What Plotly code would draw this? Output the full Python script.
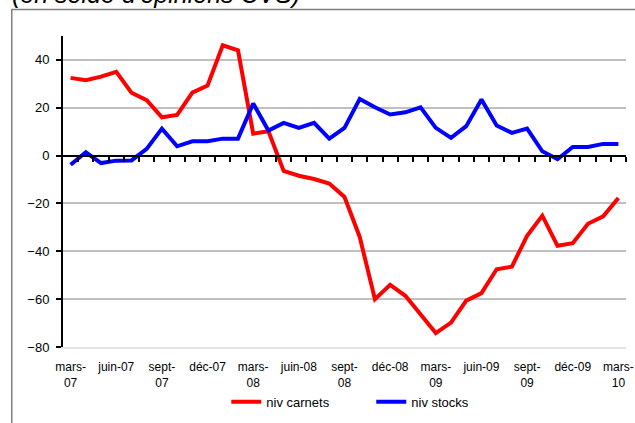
import plotly.graph_objects as go

# monthly data, mars-07 .. mars-10 (soldes d'opinions CVS)
months = [
    "mars-07", "avr-07", "mai-07", "juin-07", "juil-07", "août-07", "sept-07", "oct-07", "nov-07",
    "déc-07", "janv-08", "févr-08", "mars-08", "avr-08", "mai-08", "juin-08", "juil-08", "août-08",
    "sept-08", "oct-08", "nov-08", "déc-08", "janv-09", "févr-09", "mars-09", "avr-09", "mai-09",
    "juin-09", "juil-09", "août-09", "sept-09", "oct-09", "nov-09", "déc-09", "janv-10", "févr-10",
    "mars-10",
]
niv_carnets = [
    32.5, 31.5, 33.0, 35.0, 26.3, 23.2, 16.0, 17.0, 26.3, 29.3, 46.1, 44.0, 9.2,
    10.2, -6.4, -8.4, -9.8, -11.7, -17.3, -34.0, -60.0, -54.0, -58.6, -66.6, -74.2,
    -69.8, -60.6, -57.5, -47.5, -46.4, -33.5, -25.1, -37.7, -36.6, -28.5, -25.4, -17.7,
]
niv_stocks = [
    -3.8, 1.4, -3.1, -2.1, -2.0, 2.8, 11.3, 3.9, 6.0, 6.0, 7.1, 7.1, 21.8,
    10.5, 13.7, 11.6, 13.7, 7.1, 11.6, 23.7, 20.2, 17.2, 18.1, 20.2, 11.6,
    7.4, 12.3, 23.5, 12.6, 9.5, 11.3, 1.8, -1.5, 3.6, 3.6, 4.9, 4.9,
]
tick_months = months[::3]
tick_text = [
    "mars-<br>07", "juin-07", "sept-<br>07", "déc-07", "mars-<br>08", "juin-08", "sept-<br>08",
    "déc-08", "mars-<br>09", "juin-09", "sept-<br>09", "déc-09", "mars-<br>10",
]
y_ticks = [-80, -60, -40, -20, 0, 20, 40]
y_min, y_max = -80, 50

FONT = "Arial, Liberation Sans, sans-serif"

fig = go.Figure()
fig.add_trace(go.Scatter(x=months, y=niv_carnets, mode="lines", name="niv carnets",
                         line=dict(color="#FF0000", width=4)))
fig.add_trace(go.Scatter(x=months, y=niv_stocks, mode="lines", name="niv stocks",
                         line=dict(color="#0000FF", width=4)))
# dummy trace so the zero-line axis (x2) exists
fig.add_trace(go.Scatter(x=[0], y=[0], xaxis="x2", mode="markers", marker=dict(opacity=0),
                         showlegend=False, hoverinfo="skip"))

n = len(months)
fig.update_layout(
    width=635,
    height=423,
    margin=dict(l=63, r=1, t=36, b=76),
    paper_bgcolor="white",
    plot_bgcolor="white",
    font=dict(family=FONT, color="black"),
    showlegend=True,
    legend=dict(
        orientation="h",
        x=0.29,
        xanchor="left",
        y=-0.128,
        yanchor="top",
        font=dict(size=13, family=FONT),
        entrywidth=100,
        entrywidthmode="pixels",
        itemwidth=30,
        bgcolor="rgba(0,0,0,0)",
    ),
    xaxis=dict(
        type="category",
        categoryorder="array",
        categoryarray=months,
        range=[-0.5, n - 0.5],
        tickvals=tick_months,
        ticktext=tick_text,
        ticks="",
        showgrid=False,
        showline=True,
        linecolor="#E4E4E4",
        linewidth=1.5,
        tickfont=dict(size=12, family=FONT),
        ticklabelstandoff=8,
        zeroline=False,
    ),
    xaxis2=dict(
        overlaying="x",
        anchor="free",
        position=(0 - y_min) / (y_max - y_min),
        range=[-0.5, n - 0.5],
        tickvals=[i + 0.5 for i in range(n)],
        ticks="outside",
        ticklen=5,
        tickwidth=2,
        tickcolor="black",
        showticklabels=False,
        showgrid=False,
        showline=True,
        linecolor="black",
        linewidth=2,
        zeroline=False,
    ),
    yaxis=dict(
        range=[y_min, y_max],
        tickvals=y_ticks,
        showgrid=True,
        gridcolor="#C0C0C0",
        gridwidth=1.5,
        zeroline=False,
        showline=True,
        linecolor="black",
        linewidth=2,
        ticks="outside",
        ticklen=5,
        tickwidth=2,
        tickcolor="black",
        tickfont=dict(size=13, family=FONT),
        ticklabelstandoff=4,
    ),
)

# outer chart-area border (runs off the right and bottom edges)
fig.add_shape(type="rect", xref="paper", yref="paper", x0=-0.091, x1=1.05, y0=-0.35, y1=1.085,
              line=dict(color="#808080", width=1.5), layer="below")

# title, partly cut by the top edge
fig.add_annotation(
    text="<i>(en solde d'opinions CVS)</i>",
    xref="paper", yref="paper",
    x=-0.095, y=1.085,
    xanchor="left", yanchor="bottom",
    showarrow=False,
    font=dict(size=25, family=FONT, color="black"),
)

fig.write_html("out.html", config={"displayModeBar": False},
               post_script="document.body.style.margin='0';")
